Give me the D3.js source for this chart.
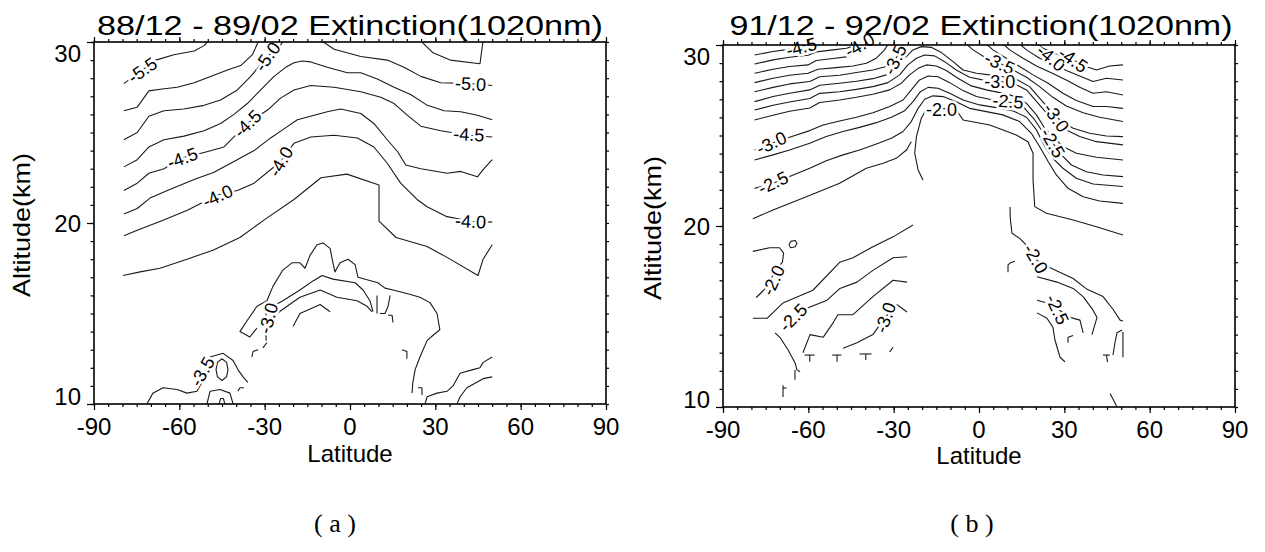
<!DOCTYPE html>
<html>
<head>
<meta charset="utf-8">
<script src="https://cdn.jsdelivr.net/npm/d3@7"></script>
<style>
  body { margin: 0; background: #fff; }
  text { font-family: "Liberation Sans", Arial, Helvetica, sans-serif; fill: #000; }
</style>
</head>
<body>
<svg id="chart" width="1265" height="552"></svg>
<script>
/// axis values
var latTicks = [-90, -60, -30, 0, 30, 60, 90];
var altTicks = [10, 20, 30];
var titles = ["88/12 - 89/02 Extinction(1020nm)", "91/12 - 92/02 Extinction(1020nm)"];
var tags = ["( a )", "( b )"];

/// panel (a): contour lines as [latitude, altitude] points
var linesA = [
  [[-79.5,27.7],[-68.3,29.0],[-61.9,29.3],[-54.8,29.5],[-51.3,29.8],[-49.6,30.1]],
  [[-79.5,26.2],[-74.8,26.4],[-70.7,27.3],[-66.0,27.4],[-60.7,27.5],[-54.8,27.75],[-49.0,28.1],[-43.1,28.45],[-38.4,28.7],[-34.3,29.3],[-32.0,30.1]],
  [[-79.5,24.6],[-74.8,25.0],[-70.7,25.9],[-65.4,26.2],[-58.4,26.3],[-51.3,26.5],[-45.5,26.8],[-39.6,27.35],[-34.9,28.1],[-29.1,29.2],[-25.0,29.7],[-23.2,30.1]],
  [[-79.5,23.1],[-74.8,23.5],[-70.7,24.2],[-65.4,24.6],[-58.4,24.8],[-51.3,25.1],[-45.5,25.5],[-40.8,26.0],[-36.1,26.6],[-31.4,27.35],[-26.7,28.1],[-22.6,28.6],[-19.7,28.85],[-16.8,28.95],[-13.8,28.9],[-8.0,28.6],[-0.9,28.3],[3.8,28.3],[9.6,27.95],[15.5,27.5],[21.3,27.1],[27.2,26.5],[33.1,26.2],[38.9,26.15],[44.8,25.95],[50.0,25.7]],
  [[-79.5,21.8],[-74.8,22.2],[-70.7,22.75],[-65.4,23.0],[-58.9,23.6],[-51.3,23.9],[-44.3,24.2],[-36.1,25.5],[-28.5,26.3],[-24.4,26.9],[-19.7,27.35],[-13.8,27.6],[-5.6,27.5],[3.8,27.25],[10.8,26.95],[15.5,26.6],[20.2,25.95],[24.9,25.35],[31.9,25.1],[41.8,24.85],[50.0,24.75]],
  [[-79.5,20.5],[-74.8,20.8],[-70.1,21.4],[-64.2,21.8],[-54.8,22.4],[-47.8,22.8],[-40.8,23.4],[-33.7,24.0],[-27.9,24.7],[-23.2,25.2],[-18.5,25.7],[-12.6,25.95],[-8.0,26.15],[-3.3,26.3],[3.8,26.05],[8.4,25.5],[13.1,24.6],[16.7,23.95],[19.6,23.2],[24.9,23.0],[34.2,22.75],[38.9,22.85],[44.8,22.55],[47.1,23.0],[50.0,23.5]],
  [[-79.5,19.3],[-74.8,19.6],[-66.6,20.1],[-57.2,20.7],[-46.6,21.55],[-39.6,21.8],[-33.7,22.2],[-24.4,23.4],[-19.7,24.4],[-13.8,24.75],[-5.6,24.85],[2.6,24.7],[8.4,24.2],[13.1,23.3],[17.8,22.2],[23.6,21.3],[27.1,20.9],[34.1,20.35],[42.4,20.1],[50.0,20.05]],
  [[-79.8,17.1],[-73.8,17.3],[-66.8,17.5],[-57.3,18.0],[-48.2,18.5],[-38.7,19.2],[-29.9,20.2],[-19.7,21.3],[-10.2,22.5],[-1.1,22.7],[10.2,22.1],[10.2,20.1],[16.2,19.2],[27.1,18.7],[34.1,18.1],[45.0,17.1],[46.8,18.0],[50.0,18.8]],
  [[-10.3,30.1],[-5.6,29.6],[3.8,29.2],[13.1,29.0],[19.0,28.6],[24.9,28.1],[31.9,27.75],[42.4,27.7],[50.0,27.6]],
  [[24.6,30.1],[29.2,29.4],[35.2,29.0],[45.7,28.8],[46.8,30.1]],
  // lower cloud
  [[-32.7,14.2],[-35.2,13.7],[-38.7,14.0],[-36.2,14.6],[-32.7,15.4],[-29.2,15.7],[-27.1,16.5],[-23.6,17.4],[-20.4,17.8],[-17.6,17.8],[-15.8,17.5],[-14.1,18.2],[-11.6,18.8],[-9.5,18.9],[-7.0,18.6],[-6.0,17.8],[-5.3,17.3],[-3.5,17.8],[-0.7,18.0],[1.8,17.7],[2.8,17.0],[9.8,16.7],[12.3,16.4],[15.1,16.3],[20.0,16.1],[24.6,15.9],[28.1,15.6],[30.6,15.0],[31.6,14.1],[29.2,13.8],[27.1,13.5],[24.6,12.6],[22.9,11.9],[22.1,11.2],[21.8,10.6]],
  [[-27.1,15.4],[-23.6,15.7],[-17.6,16.3],[-13.0,16.8],[-9.8,17.1],[-6.0,16.9],[1.8,16.7],[4.6,16.3],[7.0,15.7],[8.1,15.1]],
  [[-25.7,15.0],[-22.1,15.4],[-17.6,15.9],[-10.5,16.3],[-4.6,15.9],[2.5,15.7],[6.0,15.4],[7.7,15.1]],
  [[-20.0,14.3],[-17.6,15.0],[-10.5,15.5],[-7.0,15.1]],
  [[-29.5,15.7],[-29.5,13.5]],
  [[9.5,16.0],[9.5,15.0]],
  [[14.1,16.0],[13.4,15.4],[12.3,15.0],[10.5,15.0]],
  [[26.4,10.0],[27.1,10.4],[30.6,10.6],[34.1,10.7],[36.2,11.0],[38.7,11.7],[43.2,11.9],[45.7,12.0],[46.8,12.3],[50.0,12.6]],
  [[37.6,10.0],[38.7,10.4],[41.1,10.9],[44.6,11.2],[46.8,11.4],[50.0,11.5]],
  [[-71.4,10.0],[-69.3,10.6],[-65.7,10.9],[-60.8,10.8],[-57.3,10.6],[-53.8,10.7],[-51.7,11.3],[-49.2,12.6],[-44.6,12.8],[-41.1,12.4],[-39.4,11.9],[-37.6,11.5],[-35.9,11.2]],
  [[-50.3,10.0],[-49.2,10.7],[-45.7,10.8],[-42.2,10.6],[-41.1,10.0]],
  [[-45.0,12.5],[-43.4,12.3],[-42.9,11.9],[-43.4,11.5],[-45.0,11.3],[-46.6,11.5],[-47.1,11.9],[-46.6,12.3],[-45.0,12.5]],
  [[-46.0,10.0],[-45.5,10.3],[-44.5,10.3],[-44.0,10.0]],
  [[-34.5,12.6],[-34.1,12.9],[-32.3,13.0]],
  [[-30.6,13.1],[-29.2,13.4]],
  [[18.3,13.0],[20.0,12.9],[20.0,12.5]],
  [[23.9,10.9],[25.3,10.9],[25.3,10.5]],
  [[13.4,14.9],[14.8,14.9],[15.1,14.5]],
  [[-39.4,10.7],[-38.7,10.9],[-37.3,10.9]]
];
var labelsA = [
  {t: "-5.5", lat: -73.0, alt: 28.45, rot: -35},
  {t: "-5.0", lat: -29.1, alt: 29.2, rot: -55},
  {t: "-4.5", lat: -58.9, alt: 23.6, rot: -20},
  {t: "-4.5", lat: -36.1, alt: 25.5, rot: -45},
  {t: "-4.0", lat: -46.6, alt: 21.5, rot: -25},
  {t: "-4.0", lat: -24.4, alt: 23.4, rot: -60},
  {t: "-5.0", lat: 42.4, alt: 27.7, rot: 3},
  {t: "-4.5", lat: 41.8, alt: 24.9, rot: 3},
  {t: "-4.0", lat: 42.4, alt: 20.1, rot: 3},
  {t: "-3.5", lat: -52.0, alt: 11.8, rot: -60},
  {t: "-3.0", lat: -28.8, alt: 14.75, rot: -75}
];

/// panel (b)
var linesB = [
  [[-78.9,29.45],[-72.4,29.64],[-67.1,29.76],[-62.5,29.91],[-58.4,30.1],[-56.0,30.2]],
  [[-78.9,28.95],[-72.4,29.18],[-66.6,29.32],[-60.1,29.43],[-57.2,29.62],[-51.3,29.73],[-46.6,29.82],[-43.1,30.0],[-41.4,30.2]],
  [[-78.9,28.44],[-72.4,28.66],[-66.6,28.81],[-60.1,28.9],[-57.2,29.14],[-51.3,29.25],[-46.1,29.36],[-43.1,29.64],[-40.8,30.0],[-39.6,30.2]],
  [[-78.9,27.92],[-72.4,28.16],[-66.6,28.33],[-60.1,28.44],[-56.6,28.66],[-50.2,28.75],[-44.3,28.84],[-39.6,28.99],[-36.1,29.27],[-33.2,29.73],[-31.4,30.2]],
  [[-78.9,27.42],[-72.4,27.66],[-66.6,27.85],[-59.5,27.98],[-56.0,28.25],[-49.0,28.33],[-43.1,28.48],[-37.3,28.62],[-32.6,28.81],[-29.6,29.17],[-27.3,29.73],[-25.8,30.2]],
  [[-78.9,26.87],[-72.4,27.15],[-66.6,27.33],[-59.5,27.52],[-56.0,27.78],[-49.0,27.89],[-43.1,28.0],[-37.3,28.14],[-32.6,28.35],[-29.1,28.71],[-26.1,29.27],[-23.2,29.73],[-20.3,29.91],[-16.8,29.87],[-13.2,29.58],[-9.1,29.08],[-5.6,28.62],[-0.9,28.44],[3.8,28.35],[8.4,28.25],[13.1,28.11],[17.8,27.7],[21.3,27.06],[24.9,26.41],[28.4,25.86],[33.1,25.4],[38.9,25.12],[44.8,24.97],[50.6,24.94]],
  [[-78.9,26.41],[-72.4,26.67],[-66.6,26.85],[-59.5,27.04],[-56.0,27.33],[-49.0,27.42],[-43.1,27.55],[-37.3,27.7],[-32.0,27.92],[-27.9,28.35],[-25.0,28.9],[-22.0,29.27],[-19.1,29.45],[-15.6,29.4],[-12.1,29.08],[-8.0,28.62],[-3.3,28.22],[2.6,28.03],[7.3,27.98],[12.0,27.89],[16.7,27.52],[20.8,26.78],[24.3,26.14],[27.8,25.67],[30.7,25.31],[35.4,24.94],[41.3,24.66],[50.6,24.48]],
  [[-78.9,25.86],[-72.4,26.12],[-66.6,26.34],[-59.5,26.52],[-56.0,26.82],[-49.0,26.96],[-43.1,27.11],[-37.3,27.28],[-31.4,27.52],[-27.3,27.89],[-24.4,28.35],[-21.4,28.71],[-18.5,28.9],[-15.0,28.84],[-11.5,28.59],[-7.4,28.16],[-2.7,27.74],[2.6,27.52],[7.3,27.37],[12.0,27.19],[16.7,26.78],[20.2,26.14],[23.1,25.4],[26.0,24.94],[29.5,24.39],[34.2,24.02],[41.3,23.8],[50.6,23.65]],
  [[-78.9,24.2],[-73.0,24.57],[-66.6,24.9],[-59.5,25.27],[-54.8,25.58],[-49.0,25.8],[-43.1,26.01],[-37.3,26.26],[-31.4,26.6],[-26.7,26.96],[-23.8,27.52],[-20.9,28.07],[-17.9,28.29],[-14.4,28.25],[-10.3,27.92],[-5.6,27.48],[-0.9,27.15],[4.9,26.96],[10.2,26.87],[15.5,26.6],[19.6,25.86],[23.1,25.03],[26.0,24.57],[29.0,23.93],[32.5,23.37],[37.7,23.0],[43.6,22.82],[50.6,22.73]],
  [[-78.9,23.65],[-72.4,23.93],[-66.6,24.2],[-59.5,24.57],[-53.7,24.94],[-47.8,25.22],[-42.0,25.45],[-36.1,25.71],[-30.8,26.01],[-26.1,26.37],[-23.2,26.87],[-20.6,27.42],[-17.9,27.66],[-14.4,27.61],[-10.3,27.33],[-5.6,26.96],[0.2,26.69],[6.1,26.54],[12.0,26.36],[16.7,26.01],[20.2,25.31],[23.1,24.39],[26.0,23.74],[29.5,23.19],[34.2,22.64],[40.1,22.32],[50.6,22.18]],
  [[-78.9,22.08],[-72.4,22.36],[-66.6,22.73],[-59.5,23.19],[-53.7,23.61],[-47.8,23.93],[-42.0,24.2],[-36.1,24.53],[-30.8,24.85],[-26.7,25.22],[-23.8,25.77],[-21.4,26.5],[-19.1,27.0],[-16.2,27.19],[-12.6,27.15],[-8.0,26.87],[-3.3,26.5],[2.6,26.32],[8.4,26.14],[14.3,25.77],[18.4,25.12],[21.3,24.39],[24.3,23.56],[27.2,22.82],[31.3,22.08],[36.6,21.62],[42.4,21.38],[50.6,21.25]],
  [[-19.7,22.54],[-21.4,23.1],[-22.6,24.02],[-22.0,24.94],[-20.3,25.95],[-18.5,26.45],[-13.2,26.5],[-8.0,26.41],[-5.6,25.86],[3.8,25.58],[13.1,25.03],[17.2,24.66],[19.0,24.02],[19.0,22.54],[19.6,21.07],[23.7,20.7],[33.1,20.33],[41.3,19.96],[50.6,19.5]],
  [[-79.5,20.4],[-72.4,20.89],[-60.7,21.62],[-49.0,22.36],[-39.6,23.19],[-33.7,23.47],[-29.1,23.74],[-25.5,24.2],[-23.8,24.66]],
  // top right
  [[19.0,30.22],[22.5,29.82],[27.2,29.51],[33.1,29.17],[37.7,28.81],[41.3,28.62],[45.9,28.84],[50.6,28.9]],
  [[13.1,30.22],[16.7,29.73],[21.3,29.27],[26.0,28.95],[30.7,28.59],[35.4,28.29],[40.1,27.98],[44.8,28.16],[50.6,28.07]],
  [[7.3,30.22],[10.8,29.73],[15.5,29.27],[20.2,28.84],[25.4,28.47],[30.7,28.07],[35.4,27.66],[40.1,27.33],[44.8,27.42],[50.6,27.24]],
  [[1.4,30.22],[4.9,29.73],[9.6,29.27],[14.3,28.81],[19.0,28.35],[24.3,27.89],[29.5,27.33],[34.2,26.93],[40.1,26.6],[44.8,26.6],[50.6,26.5]],
  [[-5.6,30.22],[-2.1,29.73],[2.6,29.27],[7.3,28.99],[12.0,28.62],[16.7,28.22],[21.3,27.7],[26.0,27.11],[30.7,26.63],[36.6,26.26],[42.4,26.01],[50.6,25.77]],
  // lower left
  [[-79.5,18.6],[-73.6,18.8],[-70.1,18.8],[-68.7,18.5],[-69.1,18.0],[-71.2,17.6],[-75.4,16.5],[-78.3,16.05]],
  [[-66.8,18.95],[-66.2,19.15],[-64.6,19.2],[-64.0,19.05],[-64.6,18.85],[-66.2,18.8],[-66.8,18.95]],
  [[-79.5,14.9],[-74.5,14.9],[-68.9,15.75],[-58.4,16.45],[-48.9,18.0],[-44.3,18.25],[-37.3,18.85],[-30.2,19.4],[-23.2,20.05]],
  [[-63.5,15.2],[-60.5,15.45],[-53.4,15.9],[-48.9,16.55],[-42.9,16.9],[-37.3,17.55],[-30.2,18.25],[-25.3,18.3]],
  [[-61.9,13.0],[-59.4,14.0],[-54.8,13.85],[-51.3,14.65],[-49.6,15.1],[-44.3,15.1],[-37.3,16.1],[-30.2,17.0],[-25.3,16.9]],
  [[-47.8,13.25],[-42.9,13.55],[-37.3,14.0],[-33.0,14.95],[-28.8,15.65],[-25.3,15.25]],
  [[-71.7,14.1],[-70.0,13.85],[-67.1,13.15],[-64.7,12.45],[-64.0,12.05],[-62.9,11.95]],
  [[-64.7,12.05],[-64.7,11.5]],
  [[-61.3,12.87],[-57.8,12.87]], [[-59.5,12.87],[-59.5,12.5]],
  [[-51.6,12.87],[-48.4,12.87]], [[-49.9,12.87],[-49.9,12.5]],
  [[-42.0,12.93],[-37.8,12.93]], [[-39.8,12.93],[-39.8,12.6]],
  [[-31.4,13.05],[-30.2,13.3]],
  [[-68.9,11.2],[-68.9,10.55]], [[-68.9,11.05],[-67.7,11.05]],
  // lower right
  [[10.9,21.05],[11.0,20.4],[11.6,19.6],[14.4,19.3],[17.5,18.8],[20.4,18.1],[25.0,17.7],[33.1,17.1],[38.0,16.5],[43.6,16.1],[47.1,15.4],[49.6,14.8],[50.6,14.75]],
  [[20.4,17.2],[27.4,16.9],[33.1,16.55],[36.6,16.1],[40.1,15.35],[41.5,14.95],[39.7,14.0]],
  [[20.4,15.9],[23.9,15.75],[27.8,15.4],[32.0,14.95],[35.5,14.8],[36.6,14.1]],
  [[20.4,15.2],[23.9,14.9],[26.0,14.4],[26.7,13.7],[28.5,12.75],[30.2,12.5]],
  [[31.3,13.55],[31.3,13.85],[33.1,13.95]],
  [[43.6,12.87],[46.0,12.87]], [[44.8,12.87],[45.2,12.48]],
  [[50.3,14.25],[48.5,14.1],[47.8,13.55],[47.1,12.87]],
  [[50.6,14.15],[50.6,12.75]],
  [[46.1,10.75],[48.5,10.0]],
  [[10.2,17.45],[10.2,17.85],[10.9,17.95],[12.6,18.05]]
];
var labelsB = [
  {t: "-4.5", lat: -62.5, alt: 29.9, rot: -15},
  {t: "-4.0", lat: -42.0, alt: 30.0, rot: -30},
  {t: "-3.5", lat: -29.6, alt: 29.2, rot: -65},
  {t: "-3.0", lat: -73.0, alt: 24.6, rot: -25},
  {t: "-2.5", lat: -72.4, alt: 22.4, rot: -25},
  {t: "-2.0", lat: -13.2, alt: 26.45, rot: 0},
  {t: "-3.5", lat: 7.3, alt: 29.0, rot: 25},
  {t: "-4.0", lat: 25.4, alt: 29.3, rot: 40},
  {t: "-4.5", lat: 33.1, alt: 29.2, rot: 35},
  {t: "-3.0", lat: 7.3, alt: 28.0, rot: 0},
  {t: "-2.5", lat: 10.2, alt: 26.9, rot: 5},
  {t: "-3.0", lat: 27.2, alt: 26.0, rot: 55},
  {t: "-2.5", lat: 26.0, alt: 24.6, rot: 60},
  {t: "-2.0", lat: -72.4, alt: 17.0, rot: -65},
  {t: "-2.5", lat: -65.4, alt: 14.95, rot: -45},
  {t: "-3.0", lat: -33.0, alt: 14.95, rot: -70},
  {t: "-2.0", lat: 20.0, alt: 18.2, rot: 60},
  {t: "-2.5", lat: 27.6, alt: 15.4, rot: 65}
];

/// page layout of the two frames
var frames = [
  {left: 94, right: 606, top: 42, bottom: 404, titleX: 350, titleW: 506, ylabX: 30, latY: 462, tagX: 335},
  {left: 723, right: 1235, top: 45, bottom: 407, titleX: 981, titleW: 503, ylabX: 661, latY: 464, tagX: 972}
];

var svg = d3.select("#chart");
var defs = svg.append("defs");

function drawPanel(f, lines, labels, title, tag, id) {
  var x = d3.scaleLinear().domain([-90, 90]).range([f.left, f.right]);
  var y = d3.scaleLinear().domain([10, 30]).range([f.bottom, f.top]);
  var g = svg.append("g");

  defs.append("clipPath").attr("id", id)
    .append("rect")
      .attr("x", f.left).attr("y", f.top)
      .attr("width", f.right - f.left).attr("height", f.bottom - f.top);

  var line = d3.line().x(function(d) { return x(d[0]); }).y(function(d) { return y(d[1]); });

  g.append("g")
    .attr("clip-path", "url(#" + id + ")")
    .selectAll("path")
      .data(lines)
      .enter()
        .append("path")
          .attr("d", line)
          .attr("fill", "none")
          .attr("stroke", "#1a1a1a")
          .attr("stroke-width", 1.1)
          .attr("stroke-linejoin", "round");

  g.append("g")
    .selectAll("text")
      .data(labels)
      .enter()
        .append("text")
          .attr("transform", function(d) { return "translate(" + x(d.lat) + "," + y(d.alt) + ") rotate(" + d.rot + ")"; })
          .attr("text-anchor", "middle")
          .attr("dy", "0.36em")
          .attr("font-size", 18)
          .attr("stroke", "#fff")
          .attr("stroke-width", 5)
          .attr("paint-order", "stroke")
          .text(function(d) { return d.t; });

  // ticks: minor then major, on all four sides
  function ticks(axis, tr) {
    var a = g.append("g").attr("transform", tr).call(axis);
    a.select(".domain").remove();
    a.selectAll("line").attr("stroke", "#000").attr("stroke-width", 1.2);
  }
  ticks(d3.axisBottom(x).tickValues(d3.range(-90, 91, 5)).tickSize(3).tickFormat(""), "translate(0," + f.bottom + ")");
  ticks(d3.axisBottom(x).tickValues(latTicks).tickSize(6).tickFormat(""), "translate(0," + f.bottom + ")");
  ticks(d3.axisTop(x).tickValues(d3.range(-90, 91, 5)).tickSize(3).tickFormat(""), "translate(0," + f.top + ")");
  ticks(d3.axisTop(x).tickValues(latTicks).tickSize(5).tickFormat(""), "translate(0," + f.top + ")");
  ticks(d3.axisLeft(y).tickValues(d3.range(10, 31, 1)).tickSize(3.5).tickFormat(""), "translate(" + f.left + ",0)");
  ticks(d3.axisLeft(y).tickValues(altTicks).tickSize(7).tickFormat(""), "translate(" + f.left + ",0)");
  ticks(d3.axisRight(y).tickValues(d3.range(10, 31, 1)).tickSize(3).tickFormat(""), "translate(" + f.right + ",0)");

  g.append("rect")
    .attr("x", f.left).attr("y", f.top)
    .attr("width", f.right - f.left).attr("height", f.bottom - f.top)
    .attr("fill", "none").attr("stroke", "#000").attr("stroke-width", 1.6);

  g.selectAll("text.xt")
    .data(latTicks)
    .enter()
      .append("text")
        .attr("class", "xt")
        .attr("x", function(d) { return x(d); })
        .attr("y", f.bottom + 31)
        .attr("text-anchor", "middle")
        .attr("font-size", 24)
        .text(function(d) { return d; });

  g.selectAll("text.yt")
    .data(altTicks)
    .enter()
      .append("text")
        .attr("class", "yt")
        .attr("x", f.left - 13)
        .attr("y", function(d) { return Math.min(Math.max(y(d) + 9, f.top + 20), f.bottom + 1); })
        .attr("text-anchor", "end")
        .attr("font-size", 24)
        .text(function(d) { return d; });

  g.append("text")
    .attr("x", f.titleX).attr("y", 35)
    .attr("text-anchor", "middle")
    .attr("font-size", 28)
    .attr("textLength", f.titleW)
    .attr("lengthAdjust", "spacingAndGlyphs")
    .text(title);

  g.append("text")
    .attr("x", (f.left + f.right) / 2).attr("y", f.latY)
    .attr("text-anchor", "middle")
    .attr("font-size", 24)
    .text("Latitude");

  g.append("text")
    .attr("transform", "translate(" + f.ylabX + "," + ((f.top + f.bottom) / 2 + 2) + ") rotate(-90)")
    .attr("text-anchor", "middle")
    .attr("font-size", 24)
    .attr("textLength", 144)
    .attr("lengthAdjust", "spacingAndGlyphs")
    .text("Altitude(km)");

  g.append("text")
    .attr("x", f.tagX).attr("y", 532)
    .attr("text-anchor", "middle")
    .style("font-family", "'Liberation Serif', 'DejaVu Serif', serif")
    .attr("font-size", 26)
    .text(tag);
}

drawPanel(frames[0], linesA, labelsA, titles[0], tags[0], "clipA");
drawPanel(frames[1], linesB, labelsB, titles[1], tags[1], "clipB");
</script>
</body>
</html>
